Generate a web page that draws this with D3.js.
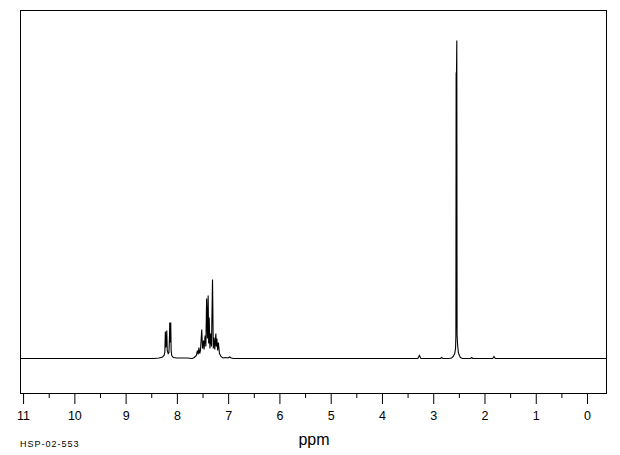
<!DOCTYPE html>
<html>
<head>
<meta charset="utf-8">
<script src="https://cdn.jsdelivr.net/npm/d3@7"></script>
<style>
  html, body { margin: 0; padding: 0; background: #fff; }
  svg { display: block; }
</style>
</head>
<body>
<svg id="chart" width="620" height="455"></svg>
<script>
// ---- data ----
const majorTicks = [11, 10, 9, 8, 7, 6, 5, 4, 3, 2, 1, 0];
const minorTicks = [10.5, 9.5, 8.5, 7.5, 6.5, 5.5, 4.5, 3.5, 2.5, 1.5, 0.5];
const xLabel = "ppm";
const sampleId = "HSP-02-553";

// spectrum trace: chemical shift (ppm) and intensity (arbitrary units)
const tracePpm = [
  11.06, 8.45, 8.35, 8.28, 8.25, 8.235, 8.225, 8.215, 8.207, 8.197, 8.188, 8.17, 8.155,
  8.145, 8.139, 8.132, 8.126, 8.120, 8.112, 8.10, 8.07, 8.0, 7.80, 7.70,
  7.66, 7.62, 7.60, 7.585, 7.57, 7.555, 7.54, 7.515, 7.50, 7.48, 7.47, 7.45, 7.435,
  7.42, 7.405, 7.39, 7.38, 7.37, 7.355, 7.34, 7.325, 7.305, 7.29, 7.275, 7.26, 7.24,
  7.23, 7.22, 7.205, 7.19, 7.17, 7.14, 7.10, 7.05, 7.0, 6.97, 6.94, 6.90,
  3.30, 3.27, 3.24, 2.86, 2.835, 2.81,
  2.70, 2.64, 2.61, 2.58, 2.565, 2.558, 2.553, 2.549, 2.546, 2.540, 2.535, 2.525, 2.51, 2.49, 2.47, 2.43,
  2.27, 2.25, 2.23, 1.84, 1.815, 1.79, -0.37
];
const traceIntensity = [
  0, 0, 0.5, 1.5, 3, 6, 27, 11, 14, 28, 8, 5, 6,
  20, 36, 16, 18, 36, 8, 3, 1, 0.5, 0.5, 0,
  1, 3, 8, 4, 11, 5, 8, 29, 10, 18, 9, 23, 12,
  60, 20, 63, 15, 41, 10, 25, 12, 79, 10, 21, 9, 25,
  12, 20, 8, 16, 5, 2, 0.5, 1, 0.5, 1.5, 0.5, 0,
  0, 3, 0, 0, 1, 0,
  0, 0.5, 2, 5, 10, 22, 286, 30, 286, 318, 24, 14, 6, 3, 1, 0,
  0, 1, 0, 0, 2, 0, 0
];

// ---- drawing ----
const svg = d3.select("#chart");
const frame = { left: 20, top: 10, right: 606, bottom: 393 };

const x = d3.scaleLinear().domain([11.06, -0.37]).range([frame.left, frame.right]);
const y = d3.scaleLinear().domain([-35, 348]).range([frame.bottom + 0.5, frame.top + 0.5]);

// frame
svg.append("rect")
  .attr("x", frame.left + 0.5).attr("y", frame.top + 0.5)
  .attr("width", frame.right - frame.left).attr("height", frame.bottom - frame.top)
  .attr("fill", "none").attr("stroke", "#000").attr("stroke-width", 1);

// spectrum
const pts = tracePpm.map((p, i) => [p, traceIntensity[i]]);
const line = d3.line().x(d => x(d[0])).y(d => y(d[1]));
svg.append("path")
  .datum(pts)
  .attr("d", line)
  .attr("fill", "none")
  .attr("stroke", "#000")
  .attr("stroke-width", 1.1);

// axes
const minorAxis = d3.axisBottom(x).tickValues(minorTicks).tickSize(5).tickSizeOuter(0).tickFormat("");
const gMinor = svg.append("g").attr("transform", `translate(0,${frame.bottom})`).call(minorAxis);
gMinor.select(".domain").remove();

const majorAxis = d3.axisBottom(x).tickValues(majorTicks).tickSize(11).tickSizeOuter(0)
  .tickPadding(7).tickFormat(d3.format("d"));
const gMajor = svg.append("g").attr("transform", `translate(0,${frame.bottom})`).call(majorAxis);
gMajor.select(".domain").remove();
gMajor.selectAll("text")
  .attr("font-family", "Liberation Sans, Arial, sans-serif")
  .attr("font-size", 12.5)
  .attr("fill", "#000");
svg.selectAll(".tick line").attr("stroke", "#000");

// axis title
svg.append("text")
  .attr("x", 314).attr("y", 445)
  .attr("text-anchor", "middle")
  .attr("font-family", "Liberation Sans, Arial, sans-serif")
  .attr("font-size", 16)
  .attr("fill", "#000")
  .text(xLabel);

// sample id
svg.append("text")
  .attr("x", 20).attr("y", 447)
  .attr("font-family", "Liberation Sans, Arial, sans-serif")
  .attr("font-size", 9)
  .attr("letter-spacing", 1)
  .attr("fill", "#000")
  .text(sampleId);
</script>
</body>
</html>
